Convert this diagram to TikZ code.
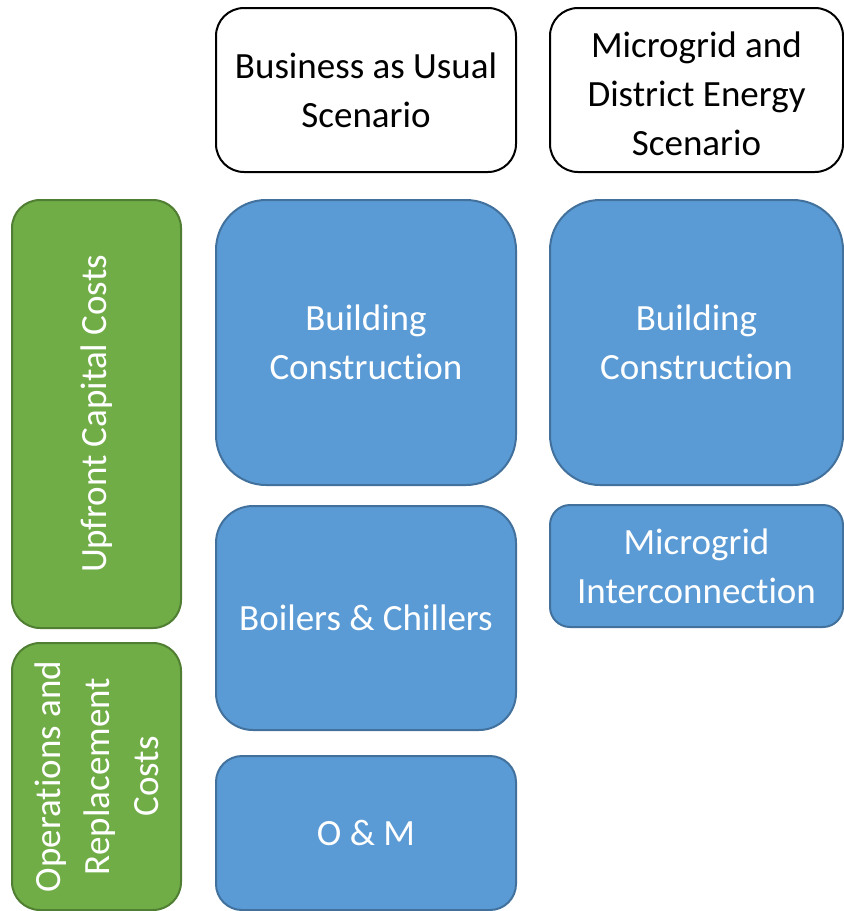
\documentclass[tikz,border=0pt]{standalone}
\usepackage{fontspec}
\setmainfont{Carlito}[Ligatures=NoCommon]
\definecolor{bfill}{HTML}{5B9BD5}
\definecolor{bline}{HTML}{41719C}
\definecolor{gfill}{HTML}{70AD47}
\definecolor{gline}{HTML}{507E32}
\tikzset{
  basebox/.style={inner sep=0pt, outer sep=0pt, align=center,
    font=\fontsize{37}{49}\selectfont, line width=2pt},
  whitebox/.style={basebox, draw=black, fill=white, text=black},
  bluebox/.style={basebox, draw=bline, fill=bfill, text=white},
  greenbox/.style={basebox, draw=gline, fill=gfill, text=white, rotate=90},
}
\begin{document}
\begin{tikzpicture}[x=1pt, y=-1pt]
\useasboundingbox (0,0) rectangle (844,911);
\node[whitebox, minimum width=300pt, minimum height=164pt, rounded corners=28pt] (bauhead) at (366,90) {Business as Usual\\Scenario};
\node[whitebox, minimum width=293pt, minimum height=164pt, rounded corners=28pt, text height=132pt] (mghead) at (696.5,90) {Microgrid and\\District Energy\\Scenario};
\node[greenbox, minimum width=428pt, minimum height=169pt, rounded corners=28pt] (upfront) at (96.5,414) {Upfront Capital Costs};
\node[greenbox, minimum width=267pt, minimum height=169pt, rounded corners=28pt] (opcost) at (96.5,776.5) {Operations and\\Replacement\\Costs};
\node[bluebox, minimum width=300pt, minimum height=285pt, rounded corners=50pt] (baubuild) at (366,342.5) {Building\\Construction};
\node[bluebox, minimum width=300pt, minimum height=224pt, rounded corners=37pt] (boilers) at (366,618) {Boilers \& Chillers};
\node[bluebox, minimum width=300pt, minimum height=154pt, rounded corners=26pt] (om) at (366,833) {O \& M};
\node[bluebox, minimum width=293pt, minimum height=285pt, rounded corners=50pt] (mgbuild) at (696.5,342.5) {Building\\Construction};
\node[bluebox, minimum width=293pt, minimum height=122pt, rounded corners=20pt] (mgint) at (696.5,566) {Microgrid\\Interconnection};
\end{tikzpicture}
\end{document}
